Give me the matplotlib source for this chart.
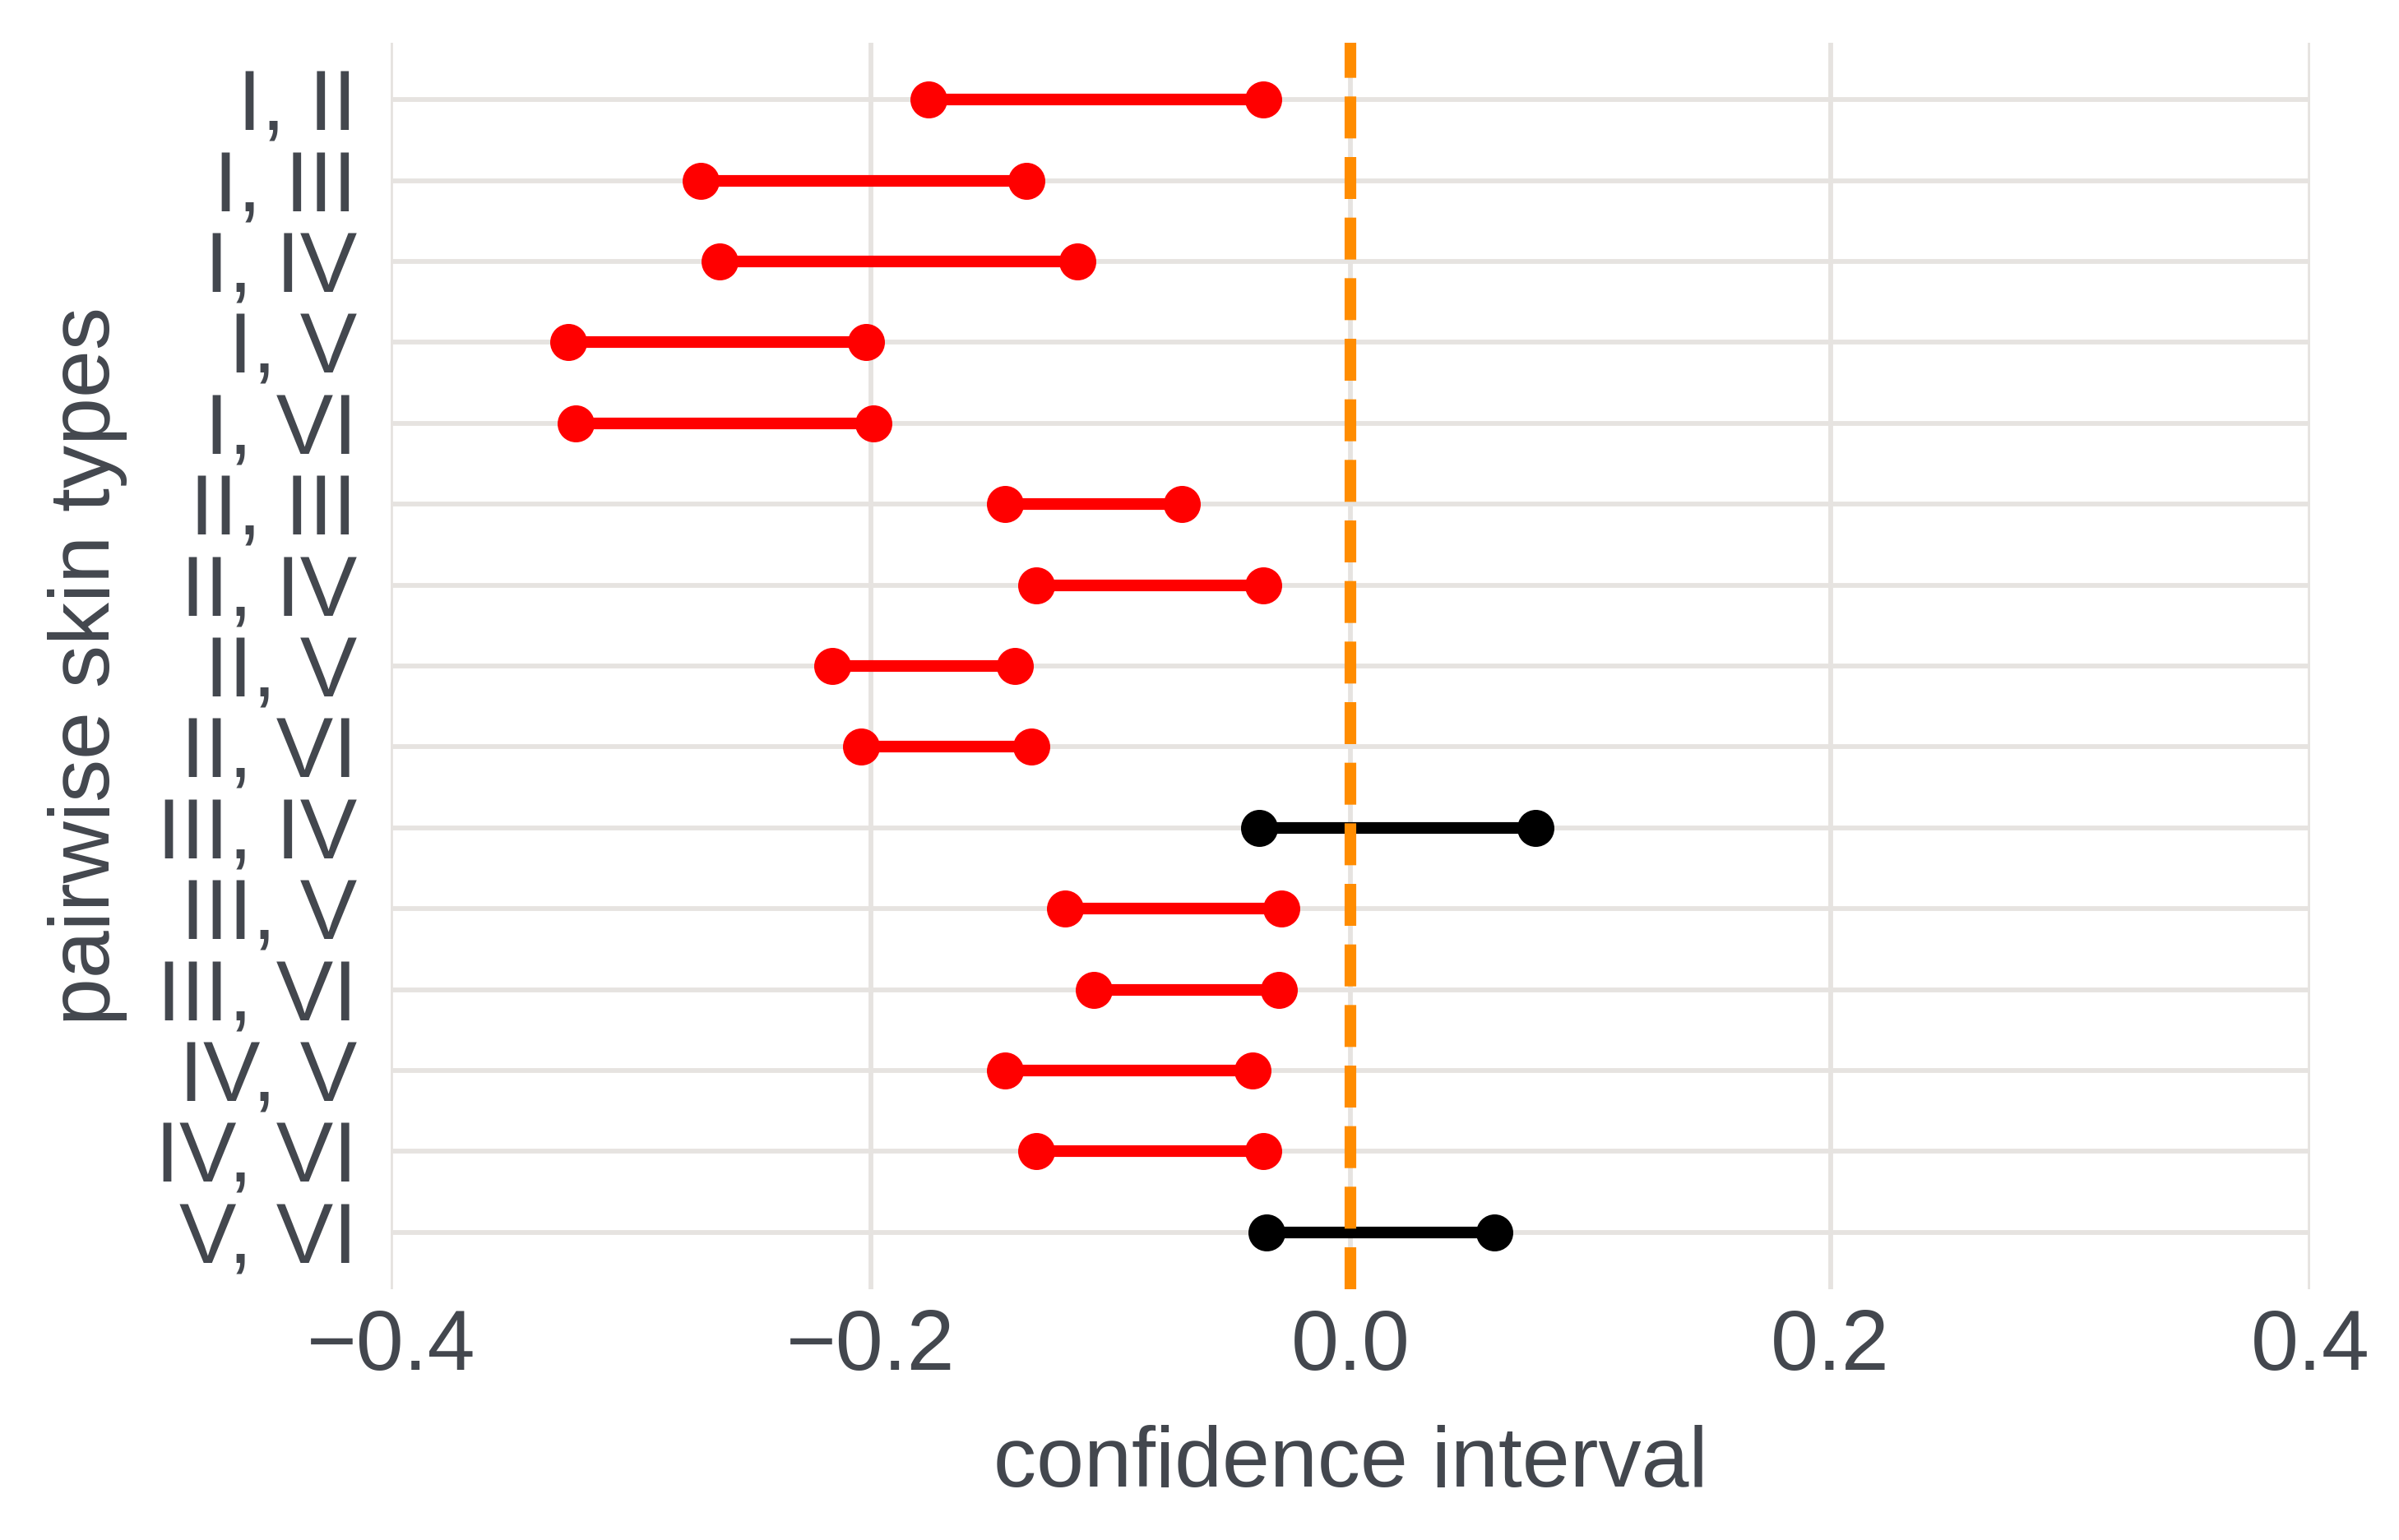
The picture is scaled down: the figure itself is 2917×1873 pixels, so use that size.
import matplotlib
matplotlib.use("Agg")
import matplotlib.pyplot as plt
import numpy as np

pairs = ["I, II", "I, III", "I, IV", "I, V", "I, VI", "II, III", "II, IV", "II, V",
         "II, VI", "III, IV", "III, V", "III, VI", "IV, V", "IV, VI", "V, VI"]
lower = [-0.176, -0.271, -0.263, -0.326, -0.323, -0.144, -0.131, -0.216,
         -0.204, -0.038, -0.119, -0.107, -0.144, -0.131, -0.035]
upper = [-0.0365, -0.135, -0.114, -0.202, -0.199, -0.0705, -0.0365, -0.140,
         -0.133, 0.077, -0.029, -0.030, -0.041, -0.0365, 0.060]
xticks = [-0.4, -0.2, 0.0, 0.2, 0.4]

plt.rcParams['font.family'] = ['Liberation Sans', 'DejaVu Sans']
textc = '#43474e'
gridc = '#e6e3e0'

fig = plt.figure(figsize=(2917/300, 1873/300), dpi=300)
ax = fig.add_axes([0.163, 0.163, 0.80, 0.809])

n = len(pairs)
ys = np.arange(n)
for y, lo, hi in zip(ys, lower, upper):
    col = 'black' if (lo < 0 < hi) else '#ff0000'
    ax.plot([lo, hi], [y, y], color=col, lw=3.4, marker='o', markersize=9.8,
            solid_capstyle='butt', zorder=3)

ax.axvline(0, color='#ff8c00', lw=3.4, ls=(0, (3.6, 1.6)),
           dash_capstyle='butt', zorder=4)

ax.set_xlim(-0.4, 0.4)
ax.set_ylim(n - 1 + 0.7, -0.7)
ax.set_yticks(ys)
ax.set_yticklabels(pairs)
ax.set_xticks(xticks)
ax.set_xticklabels([f"{t:.1f}".replace('-', '\u2212') for t in xticks])
ax.grid(True, color=gridc, lw=1.4, zorder=0)
ax.set_axisbelow(True)
for s in ax.spines.values():
    s.set_visible(False)
ax.tick_params(axis='both', length=0, labelsize=25, colors=textc)
ax.tick_params(axis='x', pad=5.5)
ax.tick_params(axis='y', pad=10)
ax.set_xlabel('confidence interval', fontsize=25, color=textc, labelpad=11)
ax.set_ylabel('pairwise skin types', fontsize=25, color=textc, labelpad=8)

fig.savefig('out.png', dpi=300, facecolor='white')
